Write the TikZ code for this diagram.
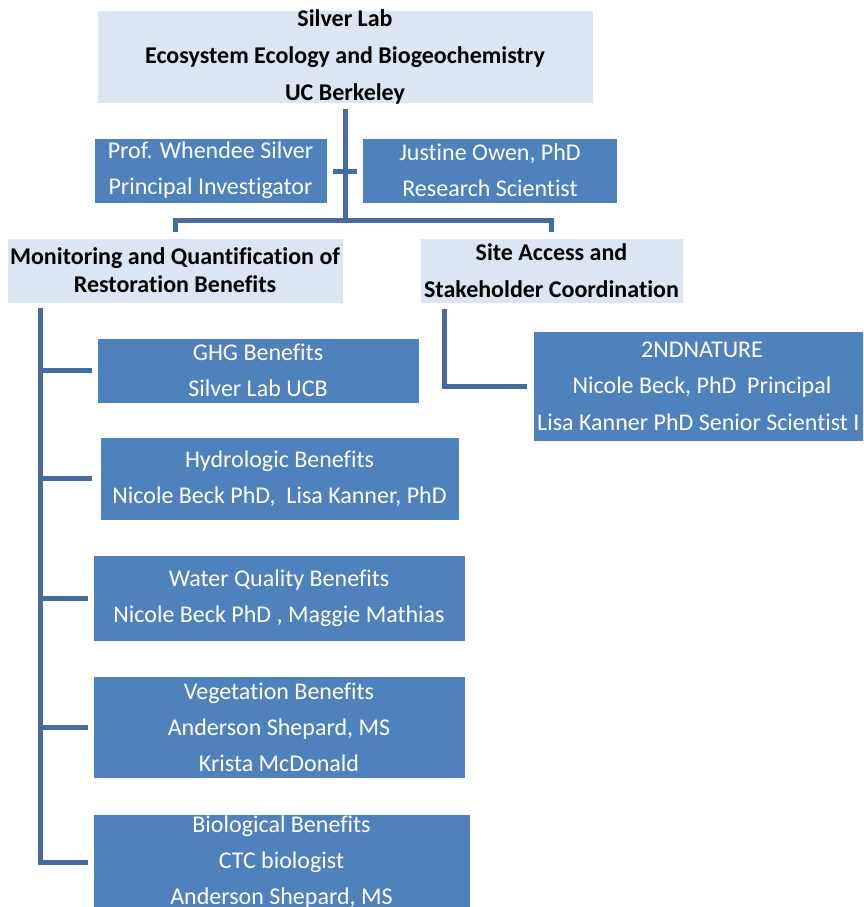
\documentclass[tikz,border=0pt]{standalone}
\usepackage{fontspec}
\setmainfont{Carlito}[Ligatures=NoCommon]
\definecolor{boxblue}{RGB}{79,129,189}
\definecolor{lightbox}{RGB}{220,230,242}
\definecolor{connblue}{RGB}{68,108,162}
\tikzset{
  x=1pt, y=-1pt,
  darkbox/.style={draw=white, line width=0.6pt, fill=boxblue, inner sep=0pt},
  litebox/.style={draw=white, line width=0.6pt, fill=lightbox, inner sep=0pt},
  wtxt/.style={text=white, align=center, inner sep=0pt, font=\fontsize{24}{36}\selectfont},
  btxt/.style={text=black, align=center, inner sep=0pt, font=\fontsize{24}{37}\selectfont\bfseries},
  conn/.style={draw=connblue, line width=5pt, line cap=butt, line join=miter}
}
\begin{document}
\begin{tikzpicture}
\useasboundingbox (0,0) rectangle (863,907);
\clip (0,0) rectangle (863,907);
% boxes
\node[litebox, minimum width=496pt, minimum height=93pt] (top) at (345,56.5) {};
\node[btxt] at (top) {Silver Lab\\Ecosystem Ecology and Biogeochemistry\\UC Berkeley};
\node[darkbox, minimum width=233pt, minimum height=65pt] (prof) at (210.5,170.5) {};
\node[wtxt] at (prof) {Prof. Whendee Silver\\Principal Investigator};
\node[darkbox, minimum width=255pt, minimum height=65pt] (owen) at (490,170.5) {};
\node[wtxt] at (owen) {Justine Owen, PhD\\Research Scientist};
\node[litebox, minimum width=336pt, minimum height=65pt] (mon) at (175,270.5) {};
\node[btxt, font=\fontsize{24}{28}\selectfont\bfseries] at (mon) {Monitoring and Quantification of\\Restoration Benefits};
\node[litebox, minimum width=263pt, minimum height=65pt] (site) at (551.5,270.5) {};
\node[btxt] at (site) {Site Access and\\Stakeholder Coordination};
\node[darkbox, minimum width=322pt, minimum height=65pt] (ghg) at (258,370.5) {};
\node[wtxt] at (ghg) {GHG Benefits\\Silver Lab UCB};
\node[darkbox, minimum width=359pt, minimum height=83pt] (hyd) at (279.5,478.5) {};
\node[wtxt] at (hyd) {Hydrologic Benefits\\Nicole Beck PhD,\ \ Lisa Kanner, PhD};
\node[darkbox, minimum width=372pt, minimum height=86pt] (wq) at (279,598) {};
\node[wtxt] at (wq) {Water Quality Benefits\\Nicole Beck PhD , Maggie Mathias};
\node[darkbox, minimum width=372pt, minimum height=102pt] (veg) at (279,727) {};
\node[wtxt] at (veg) {Vegetation Benefits\\Anderson Shepard, MS\\Krista McDonald};
\node[darkbox, minimum width=377pt, minimum height=96pt] (bio) at (281.5,862) {};
\node[wtxt] at (bio) {Biological Benefits\\CTC biologist\\Anderson Shepard, MS};
\node[darkbox, minimum width=338pt, minimum height=110pt] (nat) at (702,386) {};
\node[wtxt] at (nat) {2NDNATURE\\Nicole Beck, PhD\ \ Principal\\\phantom{Lisa Kanner PhD Senior Scientist II}};
\node[wtxt, anchor=west] (natl) at (537,422) {Lisa Kanner PhD Senior Scientist I};
% connectors
\coordinate (bar) at (345,220);
\coordinate (sp) at (40,308);
\coordinate (sq) at (444,309);
\coordinate (crossl) at (333,171);
\coordinate (crossr) at (357,171);
\draw[conn] ([yshift=-6pt]top.south) -- (bar);
\draw[conn] (crossl) -- (crossr);
\draw[conn] ([yshift=6pt]mon.north) |- (bar) -| ([yshift=6pt]site.north);
\draw[conn] (sp) |- ([xshift=-5pt]bio.west);
\draw[conn] (sp |- ghg.west) -- ([xshift=-5pt]ghg.west);
\draw[conn] (sp |- hyd.west) -- ([xshift=-8pt]hyd.west);
\draw[conn] (sp |- wq.west) -- ([xshift=-5pt]wq.west);
\draw[conn] (sp |- veg.west) -- ([xshift=-5pt]veg.west);
\draw[conn] (sq) |- ([xshift=-6pt]nat.west);
\end{tikzpicture}
\end{document}
